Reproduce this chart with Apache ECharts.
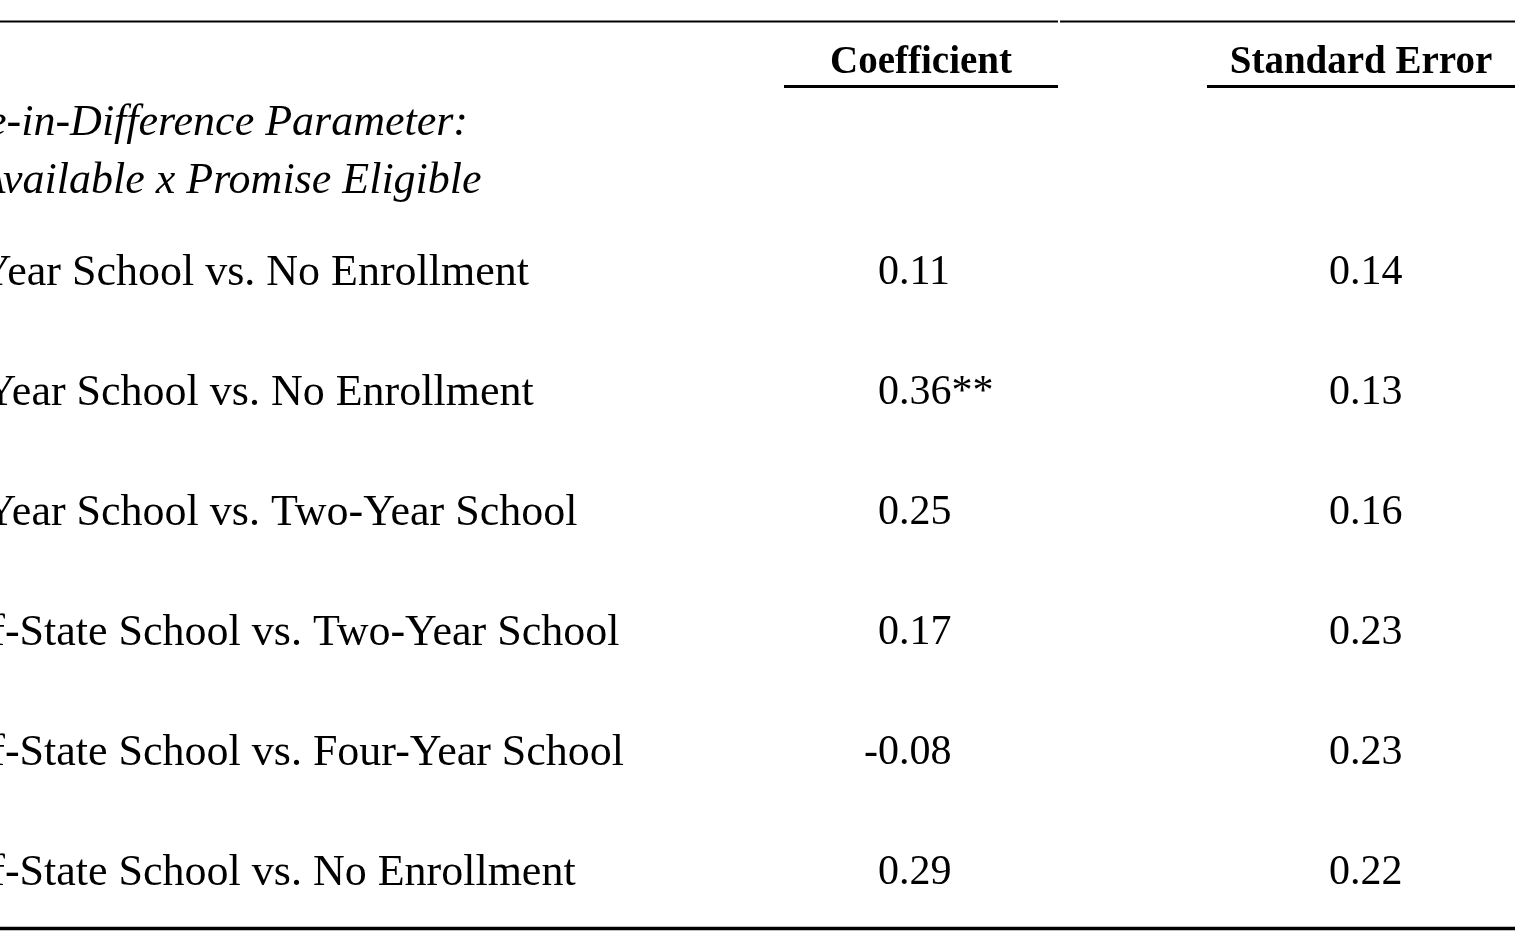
<!DOCTYPE html>
<html>
<head>
<meta charset="utf-8">
<script src="https://cdn.jsdelivr.net/npm/echarts@6/dist/echarts.min.js"></script>
<style>
  html, body { margin: 0; padding: 0; background: #fff; }
  #chart { width: 1533px; height: 931px; }
</style>
</head>
<body>
<div id="chart"></div>
<script>
// ---------- data ----------
const panelTitle = ['Difference-in-Difference Parameter:', 'Promise Available x Promise Eligible'];
const columnHeaders = ['Coefficient', 'Standard Error'];
const rowLabels = [
  'Two-Year School vs. No Enrollment',
  'Four-Year School vs. No Enrollment',
  'Four-Year School vs. Two-Year School',
  'Out-of-State School vs. Two-Year School',
  'Out-of-State School vs. Four-Year School',
  'Out-of-State School vs. No Enrollment'
];
const coefficients = [0.11, 0.36, 0.25, 0.17, -0.08, 0.29];
const significance = ['', '**', '', '', '', ''];
const standardErrors = [0.14, 0.13, 0.16, 0.23, 0.23, 0.22];

// ---------- layout / style ----------
const FONT = '"Liberation Serif", "DejaVu Serif", serif';
const LABEL_SIZE = 44, NUM_SIZE = 42, HEAD_SIZE = 39;
const TEXT_DY = 3;
const layout = {
  firstLabelEnd: 529,          // where the first row label ends
  titleEnd: 468,               // where the first title line ends
  coefDecimal: 899,            // decimal point of coefficient column
  seDecimal: 1350,             // decimal point of SE column
  coefCenter: 921, seCenter: 1361,
  headerRow: -1.75, titleRows: [-1.246, -0.767],
  underlineRow: -1.529, topRuleRow: -2.071, bottomRuleRow: 5.4875
};
const rules = [
  // [x1, x2, row, lineWidth]
  [0, 1058, layout.topRuleRow, 2],
  [1060, 1515, layout.topRuleRow, 2],
  [784, 1058, layout.underlineRow, 3],
  [1207, 1515, layout.underlineRow, 3],
  [0, 1515, layout.bottomRuleRow, 3.5]
];

function measure(text, font) {
  const c = document.createElement('canvas').getContext('2d');
  c.font = font;
  return c.measureText(text).width;
}
const labelLeft = layout.firstLabelEnd - measure(rowLabels[0], LABEL_SIZE + 'px ' + FONT);
const titleLeft = layout.titleEnd - measure(panelTitle[0], 'italic ' + LABEL_SIZE + 'px ' + FONT);

function fmt(v) { return (v < 0 ? '-' : '') + Math.abs(v).toFixed(2); }
function splitNum(v, extra) {
  const s = fmt(v);
  const k = s.indexOf('.');
  return [s.slice(0, k), s.slice(k) + (extra || '')];
}
function txt(x, y, text, o) {
  return {
    type: 'text', x: x, y: y + TEXT_DY,
    style: Object.assign({
      text: text, fill: '#000', fontFamily: FONT, fontSize: LABEL_SIZE,
      align: 'left', verticalAlign: 'middle'
    }, o || {})
  };
}

const chart = echarts.init(document.getElementById('chart'), null, { renderer: 'canvas' });
chart.setOption({
  animation: false,
  backgroundColor: '#ffffff',
  grid: { left: 0, right: 0, top: 0, bottom: 0 },
  xAxis: { type: 'value', min: 0, max: 1533, show: false },
  yAxis: { type: 'value', min: -2.25, max: 5.5083, inverse: true, show: false },
  series: [
    {
      type: 'custom',
      name: 'rows',
      data: rowLabels.map((_, i) => [i]),
      renderItem: function (params, api) {
        const i = api.value(0);
        const y = api.coord([0, i])[1];
        const lx = api.coord([labelLeft, i])[0];
        const cx = api.coord([layout.coefDecimal, i])[0];
        const sx = api.coord([layout.seDecimal, i])[0];
        const c = splitNum(coefficients[i], significance[i]);
        const s = splitNum(standardErrors[i]);
        return {
          type: 'group',
          children: [
            txt(lx, y, rowLabels[i]),
            txt(cx, y, c[0], { align: 'right', fontSize: NUM_SIZE }),
            txt(cx, y, c[1], { align: 'left', fontSize: NUM_SIZE }),
            txt(sx, y, s[0], { align: 'right', fontSize: NUM_SIZE }),
            txt(sx, y, s[1], { align: 'left', fontSize: NUM_SIZE })
          ]
        };
      }
    },
    {
      type: 'custom',
      name: 'headers',
      data: [[0]],
      renderItem: function (params, api) {
        const hy = api.coord([0, layout.headerRow])[1];
        const children = [
          txt(api.coord([layout.coefCenter, 0])[0], hy, columnHeaders[0],
              { align: 'center', fontWeight: 'bold', fontSize: HEAD_SIZE }),
          txt(api.coord([layout.seCenter, 0])[0], hy, columnHeaders[1],
              { align: 'center', fontWeight: 'bold', fontSize: HEAD_SIZE })
        ];
        panelTitle.forEach((t, k) => {
          const p = api.coord([titleLeft, layout.titleRows[k]]);
          children.push(txt(p[0], p[1], t, { fontStyle: 'italic' }));
        });
        return { type: 'group', children: children };
      }
    },
    {
      type: 'custom',
      name: 'rules',
      data: rules,
      renderItem: function (params, api) {
        const p1 = api.coord([api.value(0), api.value(2)]);
        const p2 = api.coord([api.value(1), api.value(2)]);
        return {
          type: 'line',
          shape: { x1: p1[0], y1: p1[1], x2: p2[0], y2: p2[1] },
          style: { stroke: '#000', lineWidth: api.value(3) }
        };
      }
    }
  ]
});
</script>
</body>
</html>
